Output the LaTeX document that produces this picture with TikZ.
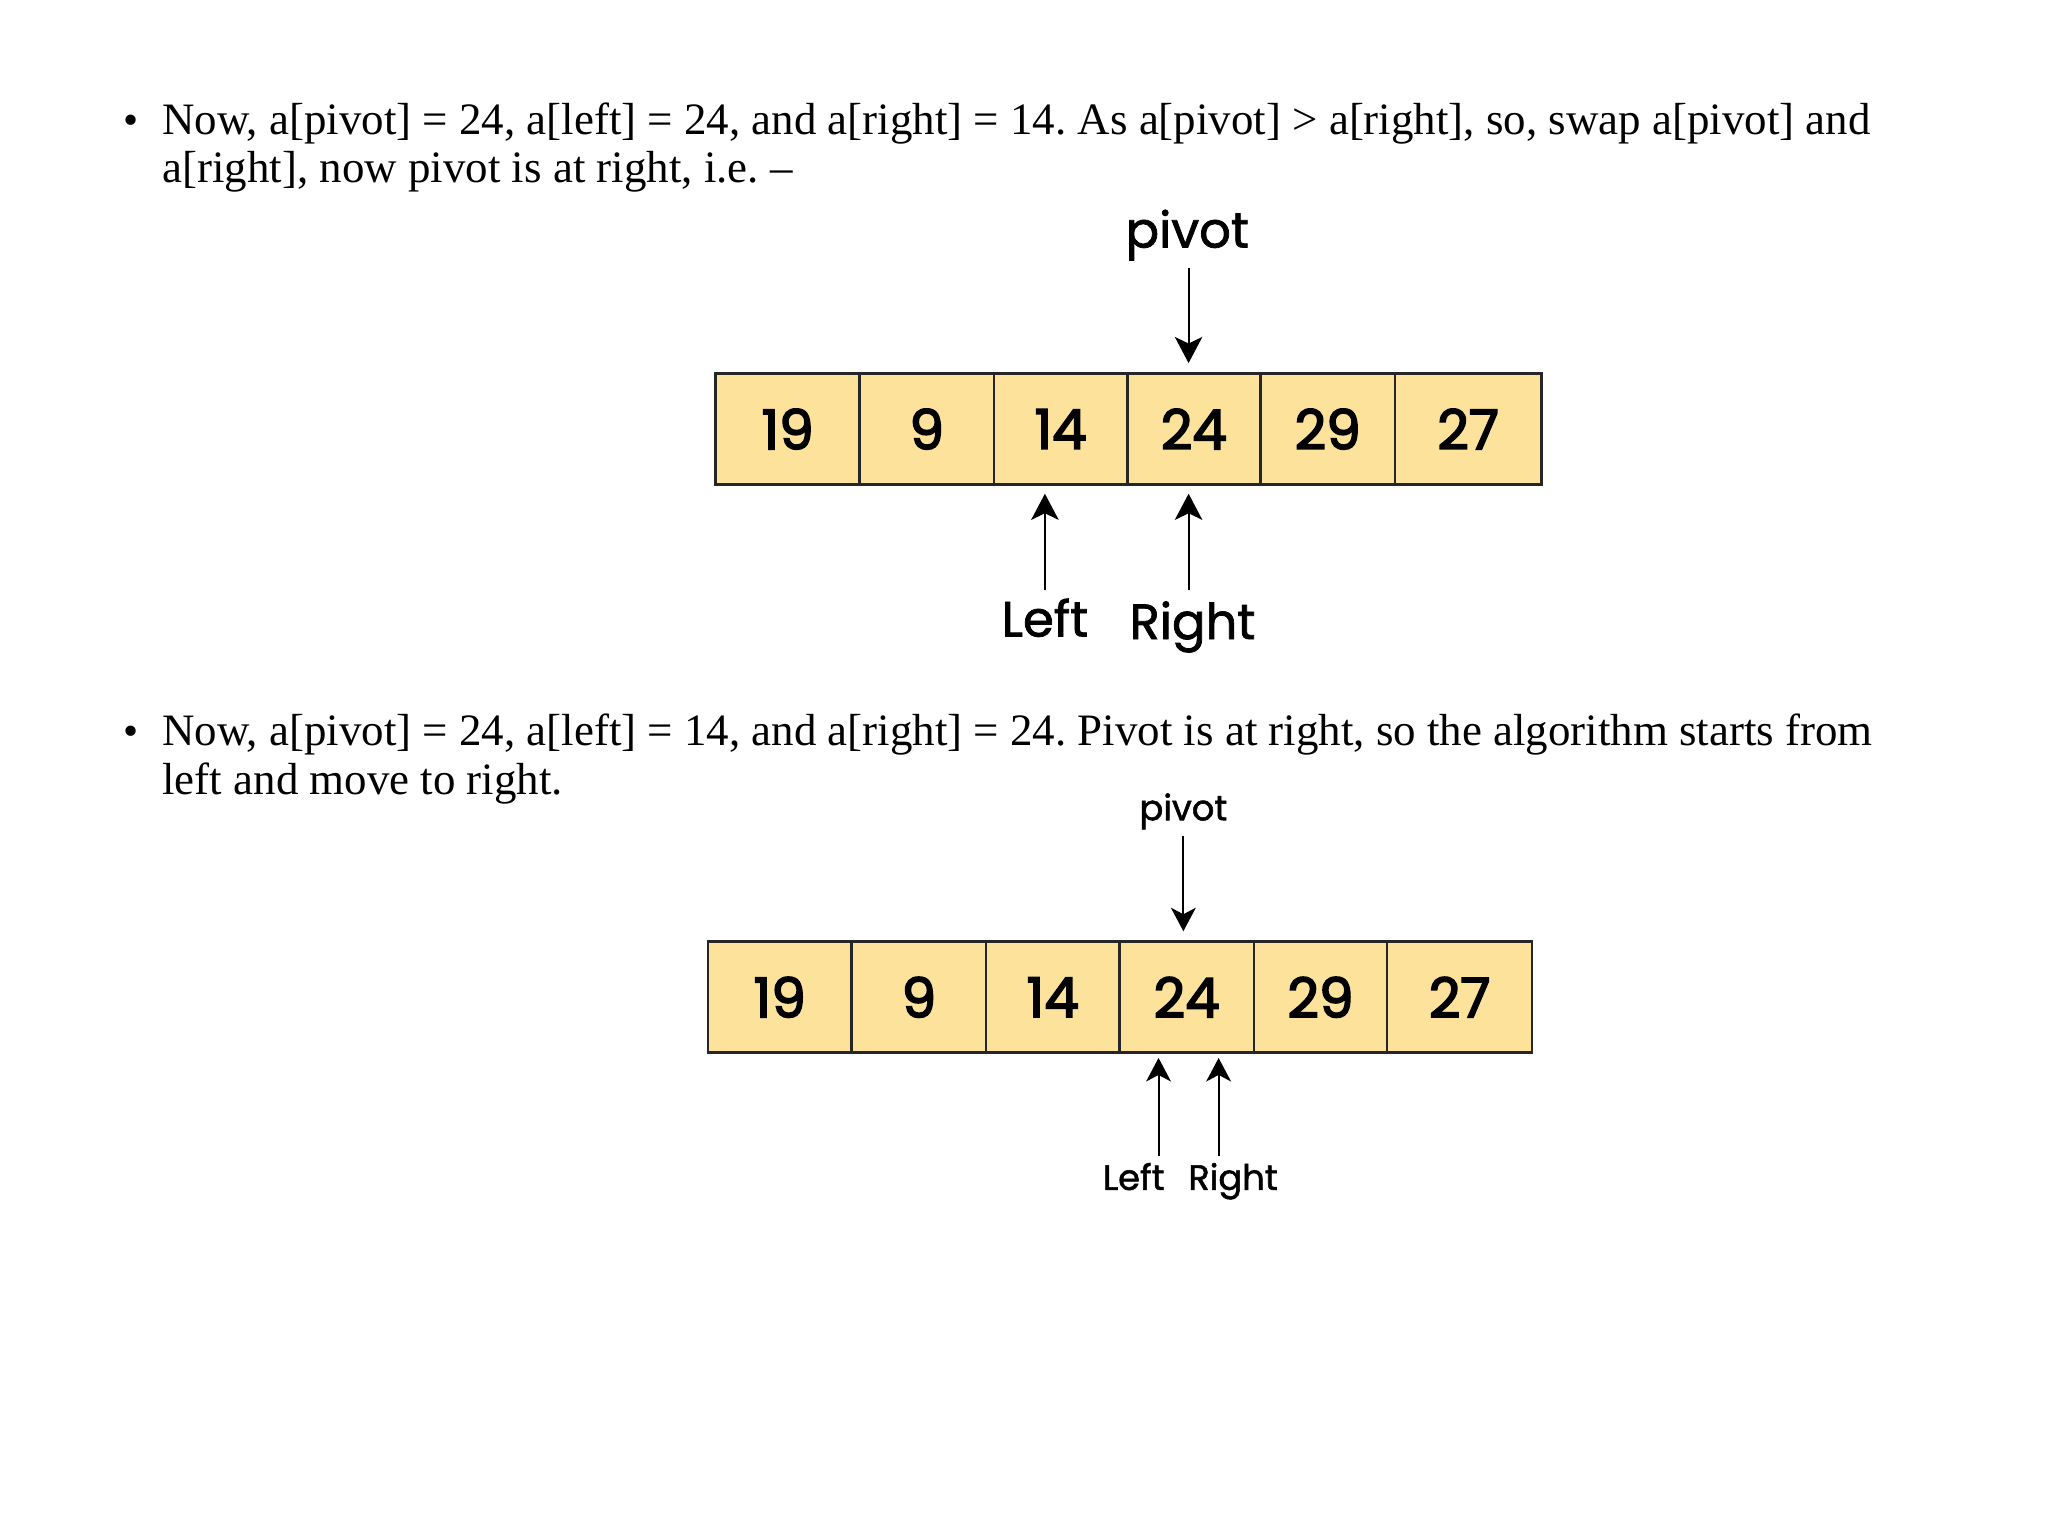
\documentclass[tikz,border=0pt]{standalone}
\usepackage{fontspec}
\setmainfont{Liberation Serif}
\newfontfamily\pop{Poppins}[FakeBold=1.5]
\newfontfamily\popnum{Poppins}[FakeBold=3]
\usetikzlibrary{arrows.meta}
\definecolor{cellfill}{RGB}{252,226,154}
\frenchspacing
\tikzset{
  body/.style={anchor=base west,inner sep=0pt,font=\fontsize{17.2}{18}\selectfont},
  bul/.style={anchor=base,inner sep=0pt,font=\fontsize{16.5}{18}\selectfont},
  cellA/.style={draw=black!85,line width=1pt,fill=cellfill,inner sep=0pt,outer sep=0pt,minimum height=42.5pt,font=\popnum\fontsize{21}{21}\selectfont},
  lblA/.style={inner sep=0pt,font=\pop\fontsize{19}{19}\selectfont},
  lblB/.style={inner sep=0pt,anchor=base,font=\pop\fontsize{13.5}{13.5}\selectfont},
  arrA/.style={line width=0.8pt,-{Stealth[length=10pt,width=10.5pt,inset=2.5pt]}},
  arrB/.style={line width=0.8pt,-{Stealth[length=9pt,width=9.5pt,inset=2.5pt]}},
}
\begin{document}
\begin{tikzpicture}[x=0.5pt,y=-0.5pt]
\useasboundingbox[fill=white] (0,0) rectangle (1568,1176);
% text block 1
\node[bul] (b1) at (100,103) {\textbullet};
\node[body] (t11) at (124,103) {Now, a[pivot] = 24, a[left] = 24, and a[right] = 14. As a[pivot] > a[right], so, swap a[pivot] and};
\node[body] (t12) at (124,140) {a[right], now pivot is at right, i.e. –};
% array 1
\node[cellA,minimum width=55pt] (c11) at (603,328.5) {19};
\node[cellA,minimum width=51.5pt] (c12) at (709.5,328.5) {9};
\node[cellA,minimum width=51pt] (c13) at (812,328.5) {14};
\node[cellA,minimum width=51pt] (c14) at (914,328.5) {24};
\node[cellA,minimum width=51.5pt] (c15) at (1016.5,328.5) {29};
\node[cellA,minimum width=56pt] (c16) at (1124,328.5) {27};
\node[lblA] (p1) at (909,180) {pivot};
\coordinate (pa1) at (910,205);
\draw[arrA] (pa1) -- ([yshift=4pt]pa1 |- c14.north);
\node[lblA] (l1) at (800,473) {Left};
\node[lblA] (r1) at (913,480) {Right};
\coordinate (la1) at (800,452);
\coordinate (ra1) at (910,452);
\draw[arrA] (la1) -- ([yshift=-3.5pt]la1 |- c13.south);
\draw[arrA] (ra1) -- ([yshift=-3.5pt]ra1 |- c14.south);
% text block 2
\node[bul] (b2) at (100,571) {\textbullet};
\node[body] (t21) at (124,571) {Now, a[pivot] = 24, a[left] = 14, and a[right] = 24. Pivot is at right, so the algorithm starts from};
\node[body] (t22) at (124,608) {left and move to right.};
% array 2
\node[cellA,minimum width=55pt] (c21) at (597,763.5) {19};
\node[cellA,minimum width=51.5pt] (c22) at (703.5,763.5) {9};
\node[cellA,minimum width=51pt] (c23) at (806,763.5) {14};
\node[cellA,minimum width=51.5pt] (c24) at (908.5,763.5) {24};
\node[cellA,minimum width=51pt] (c25) at (1011,763.5) {29};
\node[cellA,minimum width=55.5pt] (c26) at (1117.5,763.5) {27};
\node[lblB] (p2) at (906,628) {pivot};
\coordinate (pa2) at (906,640);
\draw[arrB] (pa2) -- ([yshift=4pt]pa2 |- c24.north);
\node[lblB] (l2) at (868,911) {Left};
\node[lblB] (r2) at (944,911) {Right};
\coordinate (la2) at (887,885);
\coordinate (ra2) at (933,885);
\draw[arrB] (la2) -- ([yshift=-2pt]la2 |- c24.south);
\draw[arrB] (ra2) -- ([yshift=-2pt]ra2 |- c24.south);
\end{tikzpicture}
\end{document}
